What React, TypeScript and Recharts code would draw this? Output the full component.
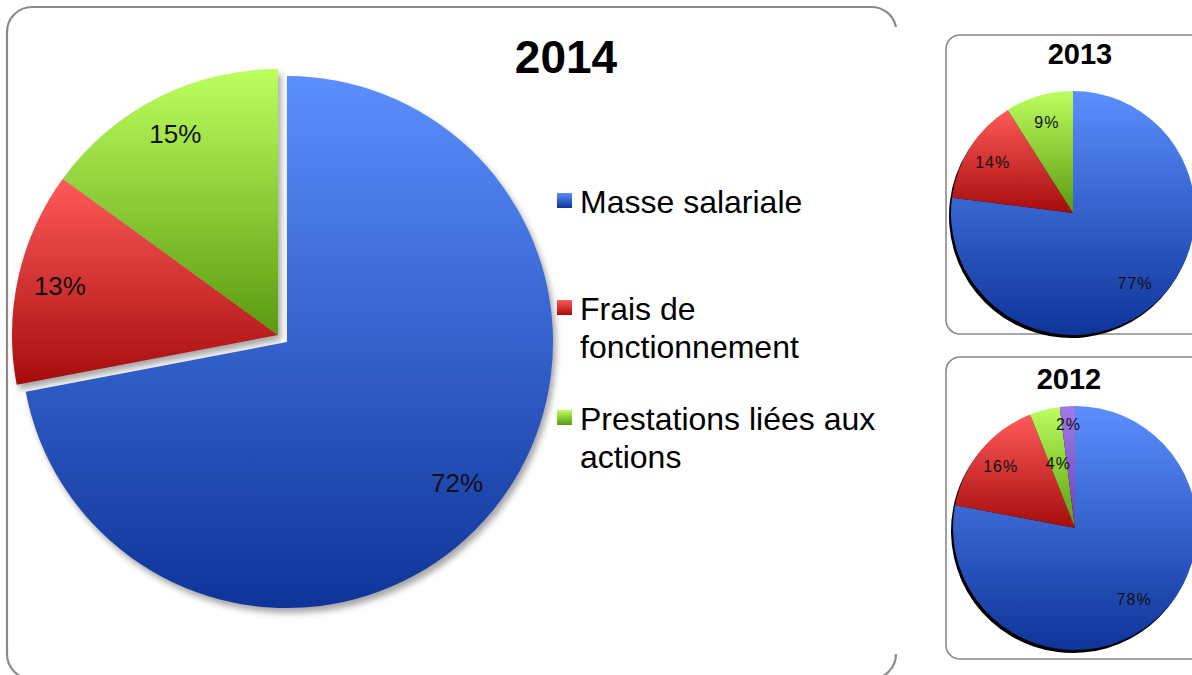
import { PieChart, Pie, Cell, Legend } from 'recharts';

type Slice = { name: string; value: number };

const categories = ['Masse salariale', 'Frais de fonctionnement', 'Prestations liées aux actions', 'Autres'];
const values2014 = [72, 13, 15];
const values2013 = [77, 14, 9];
const values2012 = [78, 16, 4, 2];
const years = ['2014', '2013', '2012'];
const legendCount = 3;

const toSlices = (vals: number[]): Slice[] => vals.map((v, i) => ({ name: categories[i], value: v }));
const data2014 = toSlices(values2014);
const data2013 = toSlices(values2013);
const data2012 = toSlices(values2012);

const FONT = '"Liberation Sans", Arial, sans-serif';
const RAD = Math.PI / 180;

const gradients = [
  { id: 'gBlue', top: '#5b8ffe', bottom: '#0e3499' },
  { id: 'gRed', top: '#ff5a5a', bottom: '#a60c0c' },
  { id: 'gGreen', top: '#bdff5e', bottom: '#5a9a10' },
  { id: 'gPurple', top: '#a07ce8', bottom: '#6a40b6' },
];
const fills = gradients.map((g) => `url(#${g.id})`);

// position radiale des étiquettes (fraction du rayon)
const labelPos2014 = [0.83, 0.84, 0.85];
const labelPos2013 = [0.77, 0.78, 0.77];
const labelPos2012 = [0.76, 0.79, 0.55, 0.85];

const makeLabel =
  (factors: number[], size: number, show: (i: number) => boolean, spacing = 0) =>
  (props: any) => {
    const { cx, cy, midAngle, outerRadius, index, value } = props;
    if (!show(index)) return <g />;
    const r = outerRadius * factors[index];
    const x = cx + r * Math.cos(-midAngle * RAD);
    const y = cy + r * Math.sin(-midAngle * RAD);
    return (
      <text
        x={x}
        y={y}
        textAnchor="middle"
        dominantBaseline="central"
        fontFamily={FONT}
        fontSize={size}
        letterSpacing={spacing}
        fill="#111"
      >
        {value}%
      </text>
    );
  };

const renderLegend = () => (
  <div style={{ fontFamily: FONT, fontSize: 32, lineHeight: '38px', color: '#000', width: 340 }}>
    {categories.slice(0, legendCount).map((name, i) => (
      <div key={name} style={{ display: 'flex', alignItems: 'flex-start', marginTop: [0, 69, 34][i] }}>
        <span
          style={{
            flex: 'none',
            width: 15,
            height: 15,
            marginTop: 10,
            marginRight: 8,
            background: `linear-gradient(${gradients[i].top}, ${gradients[i].bottom})`,
          }}
        />
        <span style={{ width: 315 }}>{name}</span>
      </div>
    ))}
  </div>
);

const Panels = () => (
  <svg width={1192} height={675} style={{ position: 'absolute', left: 0, top: 0 }}>
    <g fill="none" stroke="#8a8a8a">
      <path
        strokeWidth={2.2}
        d="M 896 27 A 25 25 0 0 0 871 7 L 32 7 A 25 25 0 0 0 7 32 L 7 654 A 25 25 0 0 0 32 679 L 871 679 A 25 25 0 0 0 896 654"
      />
      <path strokeWidth={1.6} d="M 1200 35 L 960 35 A 14 14 0 0 0 946 49 L 946 320 A 14 14 0 0 0 960 334 L 1200 334" />
      <path strokeWidth={1.6} d="M 1200 357 L 960 357 A 14 14 0 0 0 946 371 L 946 645 A 14 14 0 0 0 960 659 L 1200 659" />
    </g>
    <g fontFamily={FONT} fontWeight="bold" textAnchor="middle" fill="#000">
      <text x={566} y={73} fontSize={46}>{years[0]}</text>
      <text x={1080} y={64} fontSize={29}>{years[1]}</text>
      <text x={1069} y={389} fontSize={29}>{years[2]}</text>
    </g>
  </svg>
);

const hide = 'none';

const App = () => {
  const big = { r: 266, blue: [287, 342], rest: [278, 335] };
  const s13 = [1073, 213];
  const s12 = [1075, 528];
  const sr = 122;

  return (
    <div
      style={{
        position: 'absolute',
        left: 0,
        top: 0,
        width: 1192,
        height: 675,
        overflow: 'hidden',
        background: '#fff',
      }}
    >
      <Panels />
      <div style={{ position: 'absolute', left: 0, top: 0 }}>
        <PieChart width={1192} height={675} margin={{ top: 0, right: 0, bottom: 0, left: 0 }}>
          <defs>
            {gradients.map((g) => (
              <linearGradient key={g.id} id={g.id} x1="0" y1="0" x2="0" y2="1">
                <stop offset="0%" stopColor={g.top} />
                <stop offset="100%" stopColor={g.bottom} />
              </linearGradient>
            ))}
            <filter id="soft" x="-20%" y="-20%" width="140%" height="140%">
              <feGaussianBlur stdDeviation={3} />
            </filter>
            <filter id="hard" x="-10%" y="-10%" width="120%" height="120%">
              <feGaussianBlur stdDeviation={0.7} />
            </filter>
          </defs>

          {/* ombres 2014 */}
          <Pie
            data={data2014}
            dataKey="value"
            cx={big.blue[0] + 3}
            cy={big.blue[1] + 5}
            outerRadius={big.r}
            startAngle={90}
            endAngle={-270}
            stroke="none"
            isAnimationActive={false}
            legendType="none"
          >
            {data2014.map((d, i) => (
              <Cell key={d.name} fill={i === 0 ? '#000' : hide} fillOpacity={0.35} filter="url(#soft)" />
            ))}
          </Pie>
          <Pie
            data={data2014}
            dataKey="value"
            cx={big.rest[0] + 3}
            cy={big.rest[1] + 5}
            outerRadius={big.r}
            startAngle={90}
            endAngle={-270}
            stroke="none"
            isAnimationActive={false}
            legendType="none"
          >
            {data2014.map((d, i) => (
              <Cell key={d.name} fill={i === 0 ? hide : '#000'} fillOpacity={0.35} filter="url(#soft)" />
            ))}
          </Pie>

          {/* 2014 : masse salariale */}
          <Pie
            data={data2014}
            dataKey="value"
            cx={big.blue[0]}
            cy={big.blue[1]}
            outerRadius={big.r}
            startAngle={90}
            endAngle={-270}
            stroke="none"
            labelLine={false}
            label={makeLabel(labelPos2014, 26, (i) => i === 0)}
            isAnimationActive={false}
          >
            {data2014.map((d, i) => (
              <Cell key={d.name} fill={i === 0 ? fills[0] : hide} />
            ))}
          </Pie>
          {/* 2014 : parts détachées */}
          <Pie
            data={data2014}
            dataKey="value"
            cx={big.rest[0]}
            cy={big.rest[1]}
            outerRadius={big.r}
            startAngle={90}
            endAngle={-270}
            stroke="none"
            labelLine={false}
            label={makeLabel(labelPos2014, 26, (i) => i !== 0)}
            isAnimationActive={false}
            legendType="none"
          >
            {data2014.map((d, i) => (
              <Cell key={d.name} fill={i === 0 ? hide : fills[i]} />
            ))}
          </Pie>

          {/* 2013 */}
          <Pie
            data={data2013}
            dataKey="value"
            cx={s13[0] - 2}
            cy={s13[1] + 3}
            outerRadius={sr}
            startAngle={90}
            endAngle={-270}
            stroke="none"
            isAnimationActive={false}
            legendType="none"
          >
            {data2013.map((d) => (
              <Cell key={d.name} fill="#000" filter="url(#hard)" />
            ))}
          </Pie>
          <Pie
            data={data2013}
            dataKey="value"
            cx={s13[0]}
            cy={s13[1]}
            outerRadius={sr}
            startAngle={90}
            endAngle={-270}
            stroke="none"
            labelLine={false}
            label={makeLabel(labelPos2013, 16, () => true, 1)}
            isAnimationActive={false}
            legendType="none"
          >
            {data2013.map((d, i) => (
              <Cell key={d.name} fill={fills[i]} />
            ))}
          </Pie>

          {/* 2012 */}
          <Pie
            data={data2012}
            dataKey="value"
            cx={s12[0] - 2}
            cy={s12[1] + 3}
            outerRadius={sr}
            startAngle={90}
            endAngle={-270}
            stroke="none"
            isAnimationActive={false}
            legendType="none"
          >
            {data2012.map((d) => (
              <Cell key={d.name} fill="#000" filter="url(#hard)" />
            ))}
          </Pie>
          <Pie
            data={data2012}
            dataKey="value"
            cx={s12[0]}
            cy={s12[1]}
            outerRadius={sr}
            startAngle={90}
            endAngle={-270}
            stroke="none"
            labelLine={false}
            label={makeLabel(labelPos2012, 16, () => true, 1)}
            isAnimationActive={false}
            legendType="none"
          >
            {data2012.map((d, i) => (
              <Cell key={d.name} fill={fills[i]} />
            ))}
          </Pie>

          <Legend
            content={renderLegend}
            layout="vertical"
            align="right"
            verticalAlign="top"
            wrapperStyle={{ left: 557, top: 183, width: 340, right: 'auto' }}
          />
        </PieChart>
      </div>
    </div>
  );
};

export default App;
